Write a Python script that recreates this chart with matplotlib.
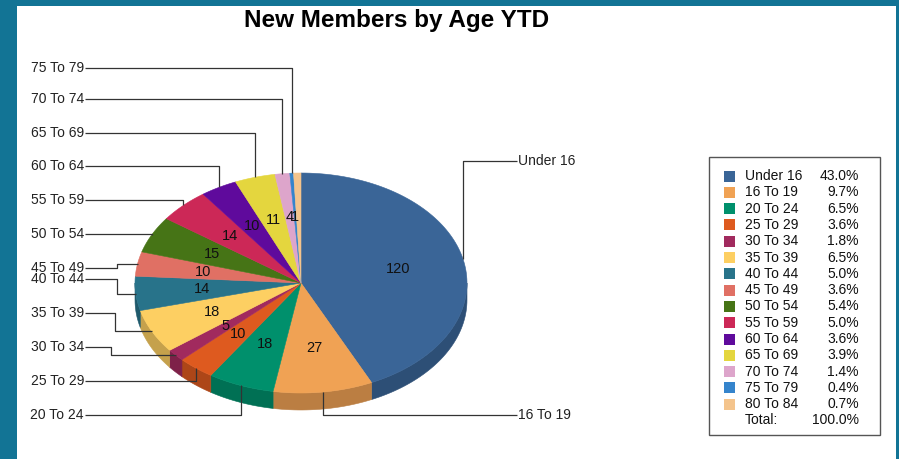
"""
New Members by Age YTD — pie 3D con etiquetas externas y leyenda con porcentajes.
"""

import numpy as np
import matplotlib
matplotlib.use('Agg')
import matplotlib.pyplot as plt
from matplotlib.patches import Polygon, Rectangle

plt.rcParams['font.family'] = ['Liberation Sans', 'DejaVu Sans']

GRUPOS = ['Under 16', '16 To 19', '20 To 24', '25 To 29', '30 To 34', '35 To 39',
          '40 To 44', '45 To 49', '50 To 54', '55 To 59', '60 To 64', '65 To 69',
          '70 To 74', '75 To 79', '80 To 84']
MIEMBROS = [120, 27, 18, 10, 5, 18, 14, 10, 15, 14, 10, 11, 4, 1, 2]
COLORES = ['#3A6597', '#F0A254', '#00906C', '#DE5A1F', '#A12A5E', '#FDCF62',
           '#28738A', '#E07064', '#467416', '#CC2857', '#5F0A9C', '#E4D63E',
           '#DDA5CB', '#3584CC', '#F4C48C']

# etiquetas externas: (grupo, y etiqueta, lado, codo x)
ETIQ_EXT = [
    ('75 To 79', 68, 'L', None), ('70 To 74', 99, 'L', None),
    ('65 To 69', 133, 'L', None), ('60 To 64', 166, 'L', None),
    ('55 To 59', 200, 'L', None), ('50 To 54', 234, 'L', None),
    ('45 To 49', 268, 'L', 117), ('40 To 44', 279, 'L', 117),
    ('35 To 39', 313, 'L', 115), ('30 To 34', 347, 'L', 111),
    ('25 To 29', 381, 'L', None), ('20 To 24', 415, 'L', None),
    ('Under 16', 161, 'R', None), ('16 To 19', 415, 'R', None),
]
SIN_VALOR = ['80 To 84']

W, H = 899, 459
CX, CY, RX, RY, DEPTH = 301, 283, 166, 110, 17


def oscurecer(c, f=0.78):
    rgb = np.array(matplotlib.colors.to_rgb(c))
    return tuple(rgb * f)


def punto(t, r=1.0, dy=0.0):
    a = np.radians(t)
    return CX + RX * r * np.sin(a), CY - RY * r * np.cos(a) + dy


def arco(a, b, dy=0.0):
    ts = np.linspace(a, b, max(int(abs(b - a) / 1.5) + 2, 3))
    return [punto(t, 1.0, dy) for t in ts]


vals = np.array(MIEMBROS, dtype=float)
total = vals.sum()
cum = np.concatenate([[0], np.cumsum(vals)])
ang = cum / total * 360
mid = (ang[:-1] + ang[1:]) / 2

fig = plt.figure(figsize=(W / 100, H / 100), dpi=100)
ax = fig.add_axes([0, 0, 1, 1])
ax.set_xlim(0, W)
ax.set_ylim(H, 0)
ax.axis('off')

# ── Marco ─────────────────────────────────────────────────────────────────────
for x, y, w, h in [(0, 0, 17, H), (0, 0, W, 6), (896, 0, 3, H)]:
    ax.add_patch(Rectangle((x, y), w, h, color='#127495', lw=0, zorder=10))

ax.text(397, 21, 'New Members by Age YTD', ha='center', va='center',
        fontsize=17.5, fontweight='bold', color='black')

# ── Pie 3D ────────────────────────────────────────────────────────────────────
for i in range(len(vals)):
    a, b = max(ang[i], 90), min(ang[i + 1], 270)
    if a < b:
        pts = arco(a, b) + arco(b, a, dy=DEPTH)
        c = oscurecer(COLORES[i])
        ax.add_patch(Polygon(pts, closed=True, fc=c, ec=c, lw=0.4, zorder=2))

for i in range(len(vals)):
    pts = [(CX, CY)] + arco(ang[i], ang[i + 1])
    ax.add_patch(Polygon(pts, closed=True, fc=COLORES[i], ec=COLORES[i],
                         lw=0.4, zorder=3))

for i, g in enumerate(GRUPOS):
    if g in SIN_VALOR:
        continue
    x, y = punto(mid[i], 0.6)
    ax.text(x, y, str(MIEMBROS[i]), ha='center', va='center',
            fontsize=10.5, color='#111111', zorder=5)

# ── Etiquetas externas ────────────────────────────────────────────────────────
for g, ly, lado, codo in ETIQ_EXT:
    i = GRUPOS.index(g)
    x0, y0 = punto(mid[i])
    lx = 85 if lado == 'L' else 517
    if codo is None:
        xs, ys = [x0, x0, lx], [y0, ly, ly]
    else:
        xs, ys = [x0, codo, codo, lx], [y0, y0, ly, ly]
    ax.plot(xs, ys, color='#333333', lw=0.9, zorder=6, solid_capstyle='butt')
    ax.text(lx + (-1 if lado == 'L' else 1), ly, g,
            ha='right' if lado == 'L' else 'left', va='center',
            fontsize=10, color='#222222', zorder=6)

# ── Leyenda ───────────────────────────────────────────────────────────────────
ax.add_patch(Rectangle((709, 157), 171, 278, fill=False, ec='#555555',
                       lw=1, zorder=6))
for k, g in enumerate(GRUPOS):
    y = 176 + k * 16.3
    ax.add_patch(Rectangle((724, y - 5.5), 11, 11, fc=COLORES[k], ec='none',
                           zorder=7))
    ax.text(745, y, g, ha='left', va='center', fontsize=10, color='#111111')
    ax.text(859, y, f'{vals[k] / total * 100:.1f}%', ha='right', va='center',
            fontsize=10, color='#111111')
y = 176 + len(GRUPOS) * 16.3
ax.text(745, y, 'Total:', ha='left', va='center', fontsize=10, color='#111111')
ax.text(859, y, '100.0%', ha='right', va='center', fontsize=10, color='#111111')

fig.savefig('out.png', dpi=100)
